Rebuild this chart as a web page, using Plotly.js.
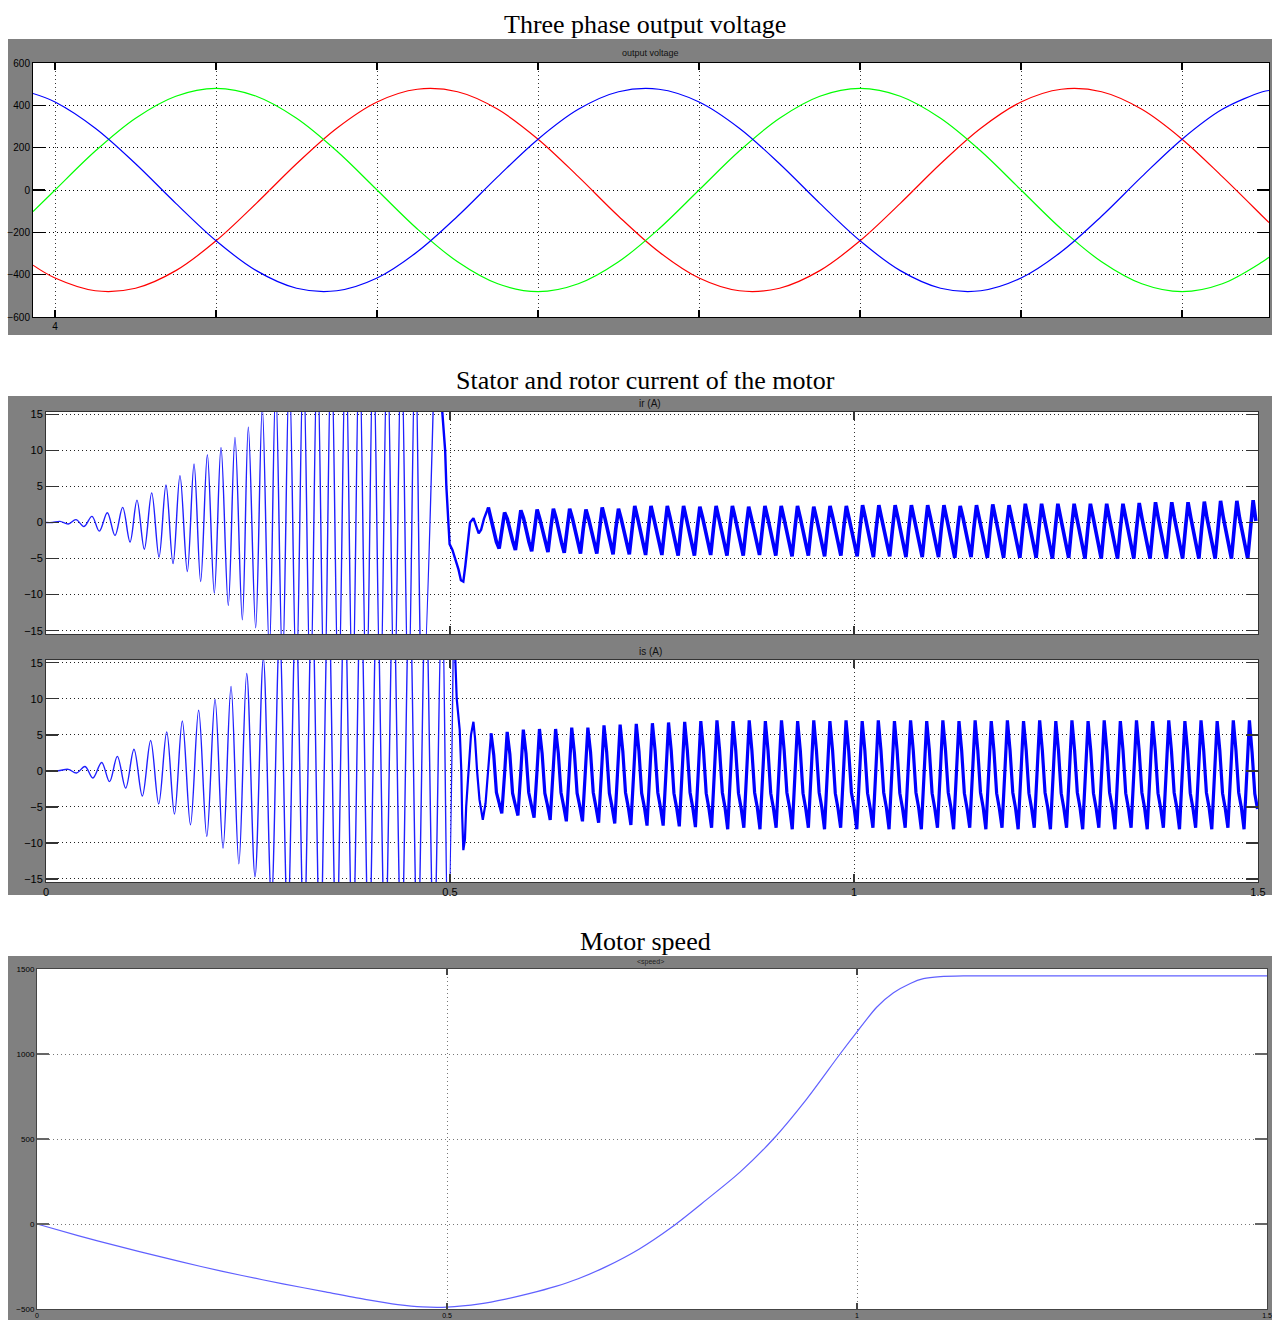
<!DOCTYPE html>
<html>
<head>
<meta charset="utf-8">
<script src="https://cdn.plot.ly/plotly-3.0.1.min.js"></script>
<style>
html,body{margin:0;padding:0;background:#fff;}
#chart{width:1272px;height:1320px;}
</style>
</head>
<body>
<div id="chart"></div>
<script>
// ---------- Three phase output voltage (time in x10^-? units, as on the scope) ----------
const voltT = [3.863, 4, 4.25, 4.5, 4.75, 5, 5.25, 5.5, 5.75, 6, 6.25, 6.5, 6.75, 7, 7.25, 7.5, 7.75, 8, 8.25, 8.5, 8.75, 9, 9.25, 9.5, 9.75, 10, 10.25, 10.5, 10.75, 11, 11.25, 11.5, 11.54];
const voltRed = [-355, -416, -476, -464, -381, -240, -63, 124, 292, 416, 476, 464, 381, 240, 63, -124, -292, -416, -476, -464, -381, -240, -63, 124, 292, 416, 476, 464, 381, 240, 63, -124, -154];
const voltGreen = [-102, 0, 184, 339, 443, 480, 443, 339, 184, 0, -184, -339, -443, -480, -443, -339, -184, 0, 184, 339, 443, 480, 443, 339, 184, 0, -184, -339, -443, -480, -443, -339, -318];
const voltBlue = [456, 416, 292, 124, -63, -240, -381, -464, -476, -416, -292, -124, 63, 240, 381, 464, 476, 416, 292, 124, -63, -240, -381, -464, -476, -416, -292, -124, 63, 240, 381, 464, 470];
const voltTickVals = [4, 5, 6, 7, 8, 9, 10, 11];
const voltTickText = ['4', '', '', '', '', '', '', ''];

// ---------- Rotor current ir (A) ----------
const irStartT = [0, 0.008, 0.0173, 0.0276, 0.0371, 0.047, 0.0569, 0.066, 0.0759, 0.0854, 0.0949, 0.104, 0.1126, 0.1217, 0.1308, 0.1399, 0.1485, 0.1572, 0.1658, 0.1749, 0.1832, 0.1914, 0.1997, 0.2083, 0.2166, 0.2256, 0.2339, 0.243, 0.2504, 0.2595, 0.2677, 0.2764, 0.2843, 0.2927, 0.3011, 0.3098, 0.3185, 0.3272, 0.3358, 0.3445, 0.3531, 0.362, 0.3709, 0.3794, 0.3878, 0.3965, 0.4051, 0.4138, 0.4224, 0.4311, 0.4398, 0.4485, 0.4571, 0.4658, 0.482];
const irStartV = [0, 0, 0.15, -0.2, 0.4, -0.55, 0.85, -1.2, 1.35, -1.8, 2.1, -2.7, 3.1, -3.7, 4.1, -4.8, 5.2, -5.7, 6.5, -6.8, 8.1, -8.2, 9.4, -9.8, 10.4, -11.5, 11.8, -13.5, 13.2, -14.6, 16, -18, 19, -20, 21, -22, 23, -24, 24, -25, 25, -25, 25, -25, 25, -25, 25, -25, 25, -25, 25, -25, 25, -25, 28];
const irTransT = [0.482, 0.4918, 0.494, 0.4955, 0.4975, 0.4995, 0.503, 0.507, 0.5105, 0.5135, 0.5165, 0.519, 0.521, 0.5248, 0.529, 0.532, 0.5355, 0.5385, 0.542, 0.5474];
const irTransV = [28, 12.7, 10, 5, 0, -3, -3.8, -5.2, -6.5, -8.0, -8.2, -6, -4, 0, 0.6, -0.4, -1.5, -1.0, 0.5, 2.1];
const irSteadyStart = 0.5474;   // first steady peak (s)
const irCycle = 0.02014;        // read peak-to-peak spacing (s)
const irSteadyV = [
  2.1, 0.4, -1.3, -2.7, -3.6, -1.1,
  1.4, 0.5, -1.2, -2.6, -3.8, -0.9,
  1.7, 0.6, -1.3, -2.7, -4.0, -1.0,
  1.8, 0.5, -1.2, -2.6, -4.1, -0.9,
  1.9, 0.6, -1.3, -2.8, -4.2, -1.0,
  1.9, 0.6, -1.2, -2.7, -4.3, -0.9,
  1.8, 0.5, -1.3, -2.8, -4.3, -1.0,
  2.1, 0.6, -1.2, -2.7, -4.4, -0.9,
  1.9, 0.5, -1.3, -2.8, -4.4, -1.0,
  2.3, 0.7, -1.2, -2.7, -4.5, -0.9,
  2.3, 0.6, -1.3, -2.8, -4.5, -1.0,
  2.3, 0.7, -1.2, -2.7, -4.6, -0.9,
  2.3, 0.6, -1.3, -2.8, -4.6, -1.0,
  2.2, 0.7, -1.2, -2.7, -4.5, -0.9,
  2.3, 0.6, -1.3, -2.8, -4.6, -1.0,
  2.3, 0.7, -1.2, -2.7, -4.6, -0.9,
  2.2, 0.6, -1.3, -2.8, -4.5, -1.0,
  2.3, 0.7, -1.2, -2.7, -4.6, -0.9,
  2.3, 0.6, -1.3, -2.8, -4.7, -1.0,
  2.3, 0.7, -1.2, -2.7, -4.6, -0.9,
  2.2, 0.6, -1.3, -2.8, -4.7, -1.0,
  2.3, 0.7, -1.2, -2.7, -4.6, -0.9,
  2.3, 0.6, -1.3, -2.8, -4.7, -1.0,
  2.4, 0.7, -1.2, -2.7, -4.8, -0.9,
  2.4, 0.6, -1.3, -2.8, -4.7, -1.0,
  2.4, 0.7, -1.2, -2.7, -4.8, -0.9,
  2.4, 0.6, -1.3, -2.8, -4.8, -1.0,
  2.4, 0.7, -1.2, -2.7, -4.8, -0.9,
  2.4, 0.6, -1.3, -2.8, -4.9, -1.0,
  2.3, 0.7, -1.2, -2.7, -4.8, -0.9,
  2.4, 0.6, -1.3, -2.8, -4.9, -1.0,
  2.5, 0.7, -1.2, -2.7, -4.9, -0.9,
  2.4, 0.6, -1.3, -2.8, -4.9, -1.0,
  2.6, 0.7, -1.2, -2.7, -4.9, -0.9,
  2.6, 0.6, -1.3, -2.8, -5.0, -1.0,
  2.6, 0.7, -1.2, -2.7, -4.9, -0.9,
  2.6, 0.6, -1.3, -2.8, -5.0, -1.0,
  2.6, 0.7, -1.2, -2.7, -5.0, -0.9,
  2.6, 0.6, -1.3, -2.8, -5.0, -1.0,
  2.6, 0.7, -1.2, -2.7, -5.0, -0.9,
  2.7, 0.6, -1.3, -2.8, -5.0, -1.0,
  2.8, 0.7, -1.2, -2.7, -5.0, -0.9,
  2.8, 0.6, -1.3, -2.8, -5.0, -1.0,
  2.8, 0.7, -1.2, -2.7, -5.0, -0.9,
  2.9, 0.6, -1.3, -2.8, -5.0, -1.0,
  3.0, 0.7, -1.2, -2.7, -5.0, -0.9,
  3.0, 0.6, -1.3, -2.8, -5.0, -1.0,
  3.1, 0.2
];

// ---------- Stator current is (A) ----------
const isStartT = [0, 0.015, 0.0276, 0.0377, 0.0483, 0.058, 0.0689, 0.0786, 0.0883, 0.0986, 0.1089, 0.1192, 0.1295, 0.1395, 0.1494, 0.159, 0.1687, 0.1788, 0.1889, 0.199, 0.2092, 0.2191, 0.229, 0.2387, 0.2484, 0.2587, 0.269, 0.279, 0.2891, 0.2991, 0.3092, 0.3192, 0.3293, 0.3393, 0.3494, 0.3594, 0.3695, 0.3795, 0.3896, 0.3996, 0.4097, 0.4197, 0.4298, 0.4398, 0.4499, 0.4599, 0.47, 0.48, 0.4901, 0.4975, 0.5045];
const isStartV = [0, 0, 0.2, -0.3, 0.6, -1.0, 1.15, -1.5, 2.0, -2.4, 3.0, -3.5, 4.2, -4.6, 5.4, -6.0, 6.9, -7.5, 8.4, -9.1, 9.9, -10.7, 11.7, -12.9, 13.5, -14.7, 15.6, -18, 19, -21, 22, -23, 24, -25, 25, -25, 25, -25, 25, -25, 25, -25, 25, -25, 25, -25, 25, -25, 25, -24, 22];
const isTransT = [0.5045, 0.5083, 0.512, 0.514, 0.515, 0.5165, 0.5185, 0.52, 0.523, 0.526, 0.529, 0.531, 0.5335, 0.5365, 0.5406, 0.544, 0.5475, 0.5508];
const isTransV = [22, 10, 5.7, 0, -6, -11, -9.5, -5, 0, 5, 6.8, 4.5, 0, -4.0, -6.8, -4.5, 0.5, 5.2];
const isSteadyStart = 0.5508;
const isCycle = 0.01997;
const isSteadyV = [
  5.2, 2.2, -3.0, -4.6, -5.9, -0.6,
  5.4, 2.3, -3.1, -4.7, -6.2, -0.5,
  5.7, 2.4, -3.0, -4.8, -6.5, -0.6,
  5.8, 2.4, -3.1, -4.8, -6.8, -0.5,
  5.8, 2.5, -3.0, -4.9, -7.0, -0.6,
  6.0, 2.5, -3.1, -4.9, -7.0, -0.5,
  6.0, 2.6, -3.0, -5.0, -7.2, -0.6,
  6.3, 2.6, -3.1, -5.0, -7.3, -0.5,
  6.4, 2.7, -3.0, -5.0, -7.5, -0.6,
  6.5, 2.7, -3.1, -5.0, -7.6, -0.5,
  6.6, 2.8, -3.0, -5.1, -7.6, -0.6,
  6.7, 2.8, -3.1, -5.1, -7.7, -0.5,
  6.8, 2.8, -3.0, -5.1, -7.8, -0.6,
  6.9, 2.8, -3.1, -5.2, -7.9, -0.5,
  7.0, 2.8, -3.0, -5.1, -8.1, -0.6,
  6.9, 2.8, -3.1, -5.2, -7.9, -0.5,
  7.0, 2.8, -3.0, -5.1, -8.1, -0.6,
  6.9, 2.8, -3.1, -5.2, -7.9, -0.5,
  7.0, 2.8, -3.0, -5.1, -8.1, -0.6,
  6.9, 2.8, -3.1, -5.2, -7.9, -0.5,
  7.0, 2.8, -3.0, -5.1, -8.1, -0.6,
  6.9, 2.8, -3.1, -5.2, -7.9, -0.5,
  7.0, 2.8, -3.0, -5.1, -8.1, -0.6,
  6.9, 2.8, -3.1, -5.2, -7.9, -0.5,
  7.0, 2.8, -3.0, -5.1, -8.1, -0.6,
  6.9, 2.8, -3.1, -5.2, -7.9, -0.5,
  7.0, 2.8, -3.0, -5.1, -8.1, -0.6,
  6.9, 2.8, -3.1, -5.2, -7.9, -0.5,
  7.0, 2.8, -3.0, -5.1, -8.1, -0.6,
  6.9, 2.8, -3.1, -5.2, -7.9, -0.5,
  7.0, 2.8, -3.0, -5.1, -8.1, -0.6,
  6.9, 2.8, -3.1, -5.2, -7.9, -0.5,
  7.0, 2.8, -3.0, -5.1, -8.1, -0.6,
  6.9, 2.8, -3.1, -5.2, -7.9, -0.5,
  7.0, 2.8, -3.0, -5.1, -8.1, -0.6,
  6.9, 2.8, -3.1, -5.2, -7.9, -0.5,
  7.0, 2.8, -3.0, -5.1, -8.1, -0.6,
  6.9, 2.8, -3.1, -5.2, -7.9, -0.5,
  7.0, 2.8, -3.0, -5.1, -8.1, -0.6,
  6.9, 2.8, -3.1, -5.2, -7.9, -0.5,
  7.0, 2.8, -3.0, -5.1, -8.1, -0.6,
  6.9, 2.8, -3.1, -5.2, -7.9, -0.5,
  7.0, 2.8, -3.0, -5.1, -8.1, -0.6,
  6.9, 2.8, -3.1, -5.2, -7.9, -0.5,
  7.0, 2.8, -3.0, -5.1, -8.1, -0.6,
  6.9, 2.8, -3.1, -5.2, -7.9, -0.5,
  7.0, 2.8, -3.0, -5.1, -8.1, -0.6,
  7.0, 2.5, -3.2, -5.3
];
const currentTickVals = [-15, -10, -5, 0, 5, 10, 15];
const timeTickVals = [0, 0.5, 1, 1.5];
const timeTickText = ['0', '0.5', '1', '1.5'];

// ---------- Motor speed ----------
const speedT = [0, 0.05, 0.1, 0.15, 0.2, 0.25, 0.3, 0.35, 0.4, 0.44, 0.47, 0.5, 0.54, 0.5716, 0.6, 0.6326, 0.66, 0.6935, 0.7341, 0.7748, 0.8155, 0.8573, 0.898, 0.9386, 0.9793, 1.0, 1.024, 1.0445, 1.065, 1.081, 1.1016, 1.13, 1.2, 1.3, 1.4, 1.5];
const speedV = [0, -68, -132, -192, -250, -303, -352, -398, -443, -474, -488, -489, -470, -442, -410, -367, -322, -252, -148, -16, 139, 305, 500, 735, 1000, 1130, 1275, 1360, 1415, 1443, 1455, 1459, 1459, 1459, 1459, 1459];
const speedTickVals = [-500, 0, 500, 1000, 1500];

// ---------- build ----------
const W = 1272, H = 1320;
const fx = p => p / W;
const fy = p => 1 - p / H;
function sampleTimes(start, cycle, n) {
  const dt = cycle / 6;
  const out = [];
  for (let i = 0; i < n; i++) out.push(start + i * dt);
  return out;
}

const traces = [
  {x: voltT, y: voltRed, xaxis: 'x', yaxis: 'y', mode: 'lines', line: {color: '#ff0000', width: 1.2, shape: 'spline'}},
  {x: voltT, y: voltGreen, xaxis: 'x', yaxis: 'y', mode: 'lines', line: {color: '#00ff00', width: 1.2, shape: 'spline'}},
  {x: voltT, y: voltBlue, xaxis: 'x', yaxis: 'y', mode: 'lines', line: {color: '#0000ff', width: 1.2, shape: 'spline'}},

  {x: irStartT, y: irStartV, xaxis: 'x2', yaxis: 'y2', mode: 'lines', line: {color: '#2020ff', width: 1.4, shape: 'spline'}},
  {x: irTransT, y: irTransV, xaxis: 'x2', yaxis: 'y2', mode: 'lines', line: {color: '#0000ff', width: 2.4}},
  {x: sampleTimes(irSteadyStart, irCycle, irSteadyV.length), y: irSteadyV, xaxis: 'x2', yaxis: 'y2', mode: 'lines', line: {color: '#0000ff', width: 3.6}},

  {x: isStartT, y: isStartV, xaxis: 'x3', yaxis: 'y3', mode: 'lines', line: {color: '#2020ff', width: 1.4, shape: 'spline'}},
  {x: isTransT, y: isTransV, xaxis: 'x3', yaxis: 'y3', mode: 'lines', line: {color: '#0000ff', width: 2.2}},
  {x: sampleTimes(isSteadyStart, isCycle, isSteadyV.length), y: isSteadyV, xaxis: 'x3', yaxis: 'y3', mode: 'lines', line: {color: '#0000ff', width: 3.2}},

  {x: speedT, y: speedV, xaxis: 'x4', yaxis: 'y4', mode: 'lines', line: {color: '#6060ff', width: 1.2, shape: 'spline', smoothing: 0.8}}
];

const DOT = '1px,3px';
const tickFont = {family: 'Liberation Sans, Arial, sans-serif', size: 10, color: '#000'};
function ax(o) {
  return Object.assign({
    showgrid: true, griddash: DOT, gridcolor: '#000', gridwidth: 1,
    zeroline: false, showline: true, linecolor: '#000', linewidth: 1, mirror: 'ticks',
    ticks: 'inside', ticklen: 8, tickcolor: '#000', tickwidth: 1.5,
    tickfont: tickFont, fixedrange: true, automargin: false
  }, o);
}

// plot-area boxes in pixels: [left, top, right, bottom]
const boxVolt = [33, 63, 1269, 317];
const boxIr = [46, 412, 1258, 634];
const boxIs = [46, 660, 1258, 882];
const boxSpeed = [37, 969, 1267, 1309];
function whiteBox(b) {
  return {type: 'rect', xref: 'paper', yref: 'paper', x0: fx(b[0]), x1: fx(b[2]), y0: fy(b[3]), y1: fy(b[1]), fillcolor: '#ffffff', line: {width: 0}, layer: 'below'};
}
function grayBand(top, bottom) {
  return {type: 'rect', xref: 'paper', yref: 'paper', x0: fx(8), x1: 1, y0: fy(bottom), y1: fy(top), fillcolor: '#808080', line: {width: 0}, layer: 'below'};
}

const midTick = {family: 'Liberation Sans, Arial, sans-serif', size: 11, color: '#000'};
const smallTick = {family: 'Liberation Sans, Arial, sans-serif', size: 8, color: '#000'};

const layout = {
  width: W, height: H,
  margin: {l: 0, r: 0, t: 0, b: 0},
  paper_bgcolor: '#ffffff', plot_bgcolor: '#ffffff',
  showlegend: false,
  xaxis: ax({domain: [fx(boxVolt[0]), fx(boxVolt[2])], anchor: 'y', range: [3.863, 11.54], tickmode: 'array', tickvals: voltTickVals, ticktext: voltTickText, ticklen: 7, gridcolor: '#333'}),
  yaxis: ax({domain: [fy(boxVolt[3]), fy(boxVolt[1])], anchor: 'x', range: [-600, 600], tickmode: 'array', tickvals: [-600, -400, -200, 0, 200, 400, 600], ticklen: 12, gridcolor: '#000'}),

  xaxis2: ax({domain: [fx(boxIr[0]), fx(boxIr[2])], anchor: 'y2', range: [0, 1.5], tickmode: 'array', tickvals: timeTickVals, showticklabels: false, gridcolor: '#333', tickcolor: '#333', linecolor: '#333'}),
  yaxis2: ax({domain: [fy(boxIr[3]), fy(boxIr[1])], anchor: 'x2', range: [-15.46, 15.32], tickmode: 'array', tickvals: currentTickVals, ticklen: 12, gridcolor: '#222', tickcolor: '#333', linecolor: '#333', tickfont: midTick}),

  xaxis3: ax({domain: [fx(boxIs[0]), fx(boxIs[2])], anchor: 'y3', range: [0, 1.5], tickmode: 'array', tickvals: timeTickVals, ticktext: timeTickText, gridcolor: '#333', tickcolor: '#333', linecolor: '#333', tickfont: midTick}),
  yaxis3: ax({domain: [fy(boxIs[3]), fy(boxIs[1])], anchor: 'x3', range: [-15.42, 15.37], tickmode: 'array', tickvals: currentTickVals, ticklen: 12, gridcolor: '#222', tickcolor: '#333', linecolor: '#333', tickfont: midTick}),

  xaxis4: ax({domain: [fx(boxSpeed[0]), fx(boxSpeed[2])], anchor: 'y4', range: [0, 1.5], tickmode: 'array', tickvals: timeTickVals, ticktext: timeTickText, gridcolor: '#777', tickcolor: '#444', linecolor: '#444', ticklen: 6, tickfont: {family: 'Liberation Sans, Arial, sans-serif', size: 7, color: '#000'}}),
  yaxis4: ax({domain: [fy(boxSpeed[3]), fy(boxSpeed[1])], anchor: 'x4', range: [-500, 1500], tickmode: 'array', tickvals: speedTickVals, gridcolor: '#777', tickcolor: '#666', linecolor: '#444', ticklen: 12, tickfont: smallTick}),

  shapes: [
    grayBand(39, 335), grayBand(396, 895), grayBand(956, 1320),
    whiteBox(boxVolt), whiteBox(boxIr), whiteBox(boxIs), whiteBox(boxSpeed)
  ],
  annotations: [
    {text: 'Three phase output voltage', xref: 'paper', yref: 'paper', x: fx(645), y: fy(25), xanchor: 'center', yanchor: 'middle', showarrow: false, font: {family: 'Times New Roman, Liberation Serif, serif', size: 26, color: '#000'}},
    {text: 'output voltage', xref: 'paper', yref: 'paper', x: fx(650), y: fy(53), xanchor: 'center', yanchor: 'middle', showarrow: false, font: {family: 'Liberation Sans, Arial, sans-serif', size: 9, color: '#111'}},
    {text: 'Stator and rotor current of the motor', xref: 'paper', yref: 'paper', x: fx(645), y: fy(381), xanchor: 'center', yanchor: 'middle', showarrow: false, font: {family: 'Times New Roman, Liberation Serif, serif', size: 26, color: '#000'}},
    {text: 'ir (A)', xref: 'paper', yref: 'paper', x: fx(650), y: fy(403), xanchor: 'center', yanchor: 'middle', showarrow: false, font: {family: 'Liberation Sans, Arial, sans-serif', size: 10, color: '#111'}},
    {text: 'is (A)', xref: 'paper', yref: 'paper', x: fx(650), y: fy(651), xanchor: 'center', yanchor: 'middle', showarrow: false, font: {family: 'Liberation Sans, Arial, sans-serif', size: 10, color: '#111'}},
    {text: 'Motor speed', xref: 'paper', yref: 'paper', x: fx(645), y: fy(941), xanchor: 'center', yanchor: 'middle', showarrow: false, font: {family: 'Times New Roman, Liberation Serif, serif', size: 26, color: '#000'}},
    {text: '&lt;speed&gt;', xref: 'paper', yref: 'paper', x: fx(650), y: fy(962), xanchor: 'center', yanchor: 'middle', showarrow: false, font: {family: 'Liberation Sans, Arial, sans-serif', size: 7, color: '#222'}}
  ]
};

Plotly.newPlot('chart', traces, layout, {staticPlot: true, displayModeBar: false});
</script>
</body>
</html>
